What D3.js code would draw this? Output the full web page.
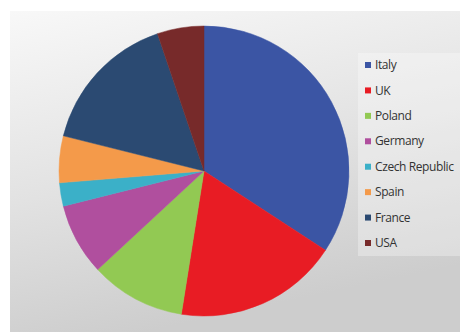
<!DOCTYPE html>
<html>
<head>
<meta charset="utf-8">
<script src="https://cdn.jsdelivr.net/npm/d3@7"></script>
<style>
  body { margin: 0; background: #fff; }
  svg { display: block; font-family: "Open Sans", "Noto Sans", sans-serif; }
</style>
</head>
<body>
<div id="chart"></div>
<script>
'use strict';

let width = 460;
let height = 332;

// countries and their share (%)
const countries = ["Italy", "UK", "Poland", "Germany", "Czech Republic", "Spain", "France", "USA"];
const shares = [34.2, 18.3, 10.6, 8.0, 2.6, 5.2, 15.9, 5.2];
const colors = ["#3b55a4", "#e81c24", "#92c953", "#b04f9e", "#3bb0c8", "#f49a4a", "#2b4a72", "#772a2a"];

const data = countries.map((c, i) => ({ name: c, value: shares[i] }));

const svg = d3.select("#chart")
    .append("svg")
    .attr("width", width)
    .attr("height", height);

// soft grey backdrop, lighter on top
const defs = svg.append("defs");
const grad = defs.append("linearGradient")
    .attr("id", "bg")
    .attr("x1", "0").attr("y1", "0")
    .attr("x2", "0.3").attr("y2", "1");
grad.append("stop").attr("offset", "0%").attr("stop-color", "#f8f8f8");
grad.append("stop").attr("offset", "55%").attr("stop-color", "#e2e2e2");
grad.append("stop").attr("offset", "100%").attr("stop-color", "#cdcdcd");

svg.append("rect")
    .attr("x", 10).attr("y", 11)
    .attr("width", width - 10).attr("height", height - 11)
    .attr("fill", "url(#bg)");

const color = d3.scaleOrdinal().domain(countries).range(colors);

const pie = d3.pie()
    .value(d => d.value)
    .sort(null);

const arc = d3.arc()
    .innerRadius(0)
    .outerRadius(145);

const g = svg.append("g")
    .attr("transform", "translate(204,171)");

g.selectAll("path")
    .data(pie(data))
    .join("path")
    .attr("d", arc)
    .attr("fill", d => color(d.data.name))
    .attr("stroke", d => color(d.data.name))
    .attr("stroke-width", 0.5);

// legend
const legend = svg.append("g")
    .attr("transform", "translate(358,53)");

legend.append("rect")
    .attr("width", 102)
    .attr("height", 203)
    .attr("fill", "#ffffff")
    .attr("fill-opacity", 0.3);

const rowY = d3.scalePoint()
    .domain(countries)
    .range([12, 190]);

const item = legend.selectAll(".item")
    .data(countries)
    .join("g")
    .attr("class", "item")
    .attr("transform", d => `translate(0,${rowY(d)})`);

item.append("rect")
    .attr("x", 7)
    .attr("y", -3)
    .attr("width", 6)
    .attr("height", 6)
    .attr("fill", d => color(d));

item.append("text")
    .attr("x", 17)
    .attr("y", 0)
    .attr("dy", "0.35em")
    .attr("font-size", 12)
    .attr("fill", "#333")
    .attr("letter-spacing", -0.4)
    .text(d => d);
</script>
</body>
</html>
